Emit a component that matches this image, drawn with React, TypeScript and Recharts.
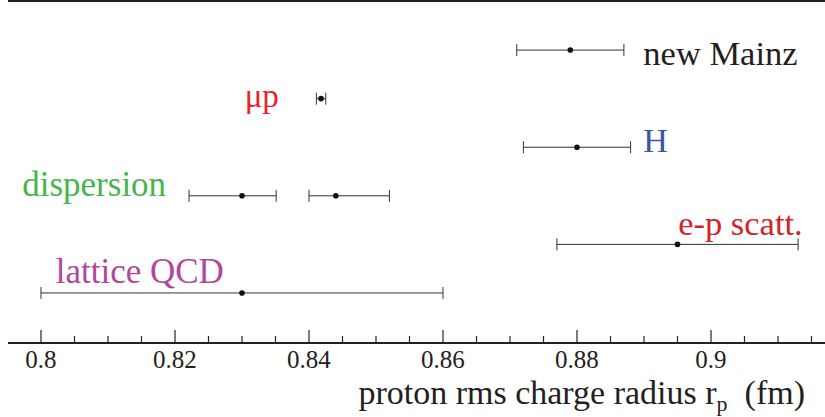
import React from 'react';
import {
  ScatterChart,
  Scatter,
  XAxis,
  YAxis,
  ErrorBar,
  ReferenceLine,
  Label,
} from 'recharts';

// Measurements: proton radius (fm), asymmetric errors, row index
const measNames = ['new Mainz', 'μp', 'H', 'dispersion 1', 'dispersion 2', 'e-p scatt.', 'lattice QCD'];
const measRadius = [0.879, 0.8418, 0.88, 0.83, 0.844, 0.895, 0.83];
const measErrLow = [0.008, 0.0007, 0.008, 0.0079, 0.004, 0.018, 0.03];
const measErrHigh = [0.008, 0.0007, 0.008, 0.0051, 0.008, 0.018, 0.03];
const measRow = [6, 5, 4, 3, 3, 2, 1];

// Annotations (text start in fm, baseline in row units)
const annText = ['new Mainz', 'μp', 'H', 'dispersion', 'e-p scatt.', 'lattice QCD'];
const annRadius = [0.8899, 0.8304, 0.8899, 0.7972, 0.8951, 0.8022];
const annRow = [5.69, 4.83, 3.9, 3.0, 2.19, 1.2];
const annColor = ['#231f20', '#e8232b', '#3b53a5', '#45b649', '#d1232a', '#b2479c'];
const annSize = [34.5, 33, 34, 35, 34.5, 35];

const majorTicks = [0.8, 0.82, 0.84, 0.86, 0.88, 0.9];
const tickValues: number[] = [];
for (let i = 0; i <= 23; i++) tickValues.push(Math.round((0.8 + i * 0.005) * 1000) / 1000);

const X_MIN = 0.795075;
const X_MAX = 0.917015;
const Y_MIN = -0.03;
const Y_MAX = 7.01;

const measData = measRadius.map((r, i) => ({
  name: measNames[i],
  x: r,
  y: measRow[i],
  err: [measErrLow[i], measErrHigh[i]],
}));

const annData = annText.map((t, i) => ({
  text: t,
  x: annRadius[i],
  y: annRow[i],
  color: annColor[i],
  size: annSize[i],
}));

const FONT = 'Liberation Serif';

const Tick = (props: any) => {
  const { x, y, payload } = props;
  const v = payload.value;
  const isMajor = majorTicks.some((m) => Math.abs(m - v) < 1e-6);
  return (
    <g>
      <line x1={x} x2={x} y1={y} y2={y - (isMajor ? 13 : 7)} stroke="#222" strokeWidth={1.2} />
      {isMajor && (
        <text x={x} y={y + 25} textAnchor="middle" fontFamily={FONT} fontSize={25} fill="#231f20">
          {String(v)}
        </text>
      )}
    </g>
  );
};

const AnnShape = (props: any) => {
  const { cx, cy, payload } = props;
  return (
    <text x={cx} y={cy} fontFamily={FONT} fontSize={payload.size} fill={payload.color}>
      {payload.text}
    </text>
  );
};

const DotShape = (props: any) => {
  const { cx, cy } = props;
  return <circle cx={cx} cy={cy} r={2.8} fill="#111" />;
};

const AxisTitle = (props: any) => {
  const vb = props.viewBox || { x: 8, y: 343, width: 817, height: 74 };
  const endX = vb.x + vb.width - 20;
  const base = vb.y + 61;
  return (
    <text x={endX} y={base} textAnchor="end" fontFamily={FONT} fontSize={34} fill="#231f20" style={{ whiteSpace: 'pre' }}>
      <tspan>proton rms charge radius r</tspan>
      <tspan fontSize={22} dy={7}>p</tspan>
      <tspan dy={-7}>{'  (fm)'}</tspan>
    </text>
  );
};

export default function App() {
  return (
    <div style={{ position: 'absolute', left: 0, top: 0, background: '#fff' }}>
      <ScatterChart width={825} height={417} margin={{ top: 1, right: 0, bottom: 0, left: 8 }}>
        <XAxis
          type="number"
          dataKey="x"
          domain={[X_MIN, X_MAX]}
          allowDataOverflow
          ticks={tickValues}
          interval={0}
          tick={<Tick />}
          tickLine={false}
          tickSize={0}
          tickMargin={0}
          height={74}
          axisLine={{ stroke: '#222', strokeWidth: 2 }}
        >
          <Label content={<AxisTitle />} />
        </XAxis>
        <YAxis
          type="number"
          dataKey="y"
          domain={[Y_MIN, Y_MAX]}
          allowDataOverflow
          width={0}
          tick={false}
          tickLine={false}
          axisLine={{ stroke: '#222', strokeWidth: 2 }}
        />
        <ReferenceLine y={Y_MAX} stroke="#222" strokeWidth={2} />
        <Scatter data={measData} isAnimationActive={false} shape={<DotShape />}>
          <ErrorBar dataKey="err" direction="x" width={6} stroke="#333" strokeWidth={1} isAnimationActive={false} />
        </Scatter>
        <Scatter data={annData} isAnimationActive={false} shape={<AnnShape />} />
      </ScatterChart>
    </div>
  );
}
